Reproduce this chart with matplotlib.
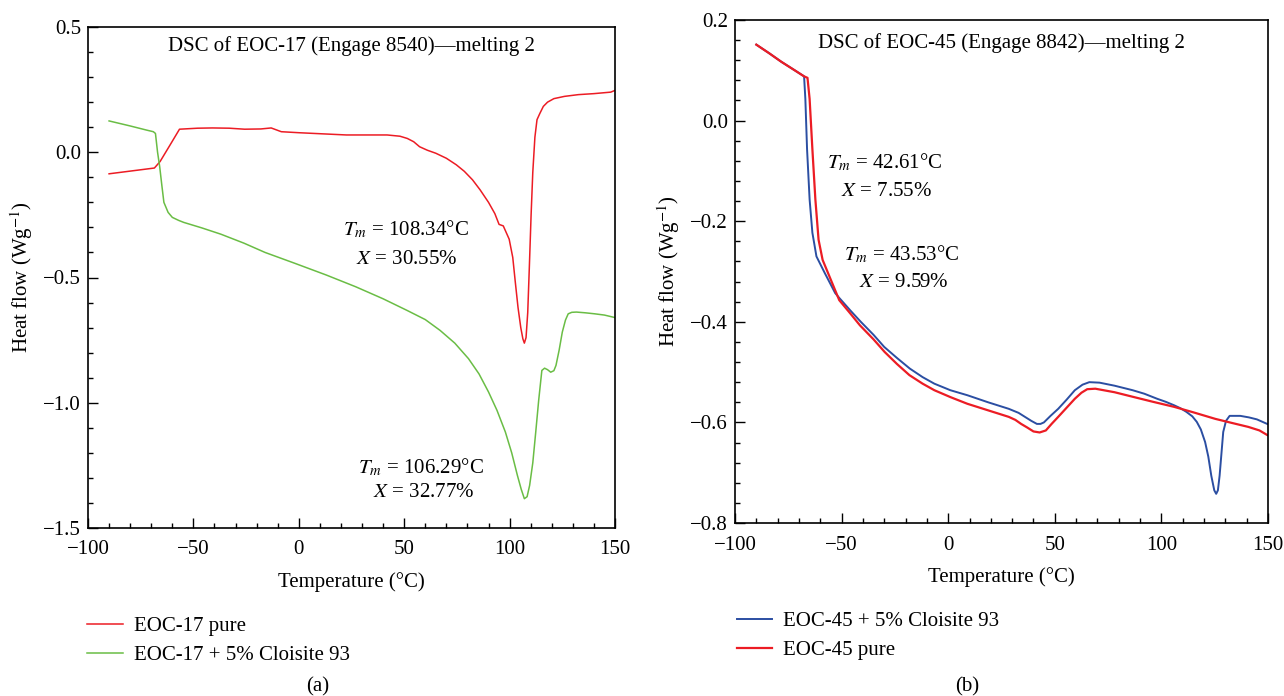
import matplotlib
matplotlib.use("Agg")
import matplotlib.pyplot as plt
from matplotlib.ticker import MultipleLocator, FuncFormatter

plt.rcParams['font.family'] = ['Liberation Serif', 'DejaVu Serif']
plt.rcParams['mathtext.fontset'] = 'stix'

# ---- panel (a): EOC-17 ----
a_pure_T = [-90, -68.5, -65.8, -61, -56.6, -48, -41, -33, -25.7, -18, -13.1, -8.3, 0, 10,
            22.6, 32, 41.9, 48, 51.5, 54.5, 57.3, 61, 65, 70, 74.7, 78.5, 82.4, 86, 90, 93,
            95, 97, 99.8, 101.5, 102.7, 104, 105.3, 106.3, 107, 107.8, 108.6, 109.4, 110.2,
            111, 112, 113, 114.3, 116, 118, 121, 126, 132.6, 140, 148, 150]
a_pure_H = [-0.086, -0.063, -0.037, 0.03, 0.092, 0.096, 0.097, 0.096, 0.092, 0.093, 0.097,
            0.082, 0.078, 0.074, 0.069, 0.069, 0.069, 0.064, 0.055, 0.042, 0.022, 0.008,
            -0.004, -0.024, -0.05, -0.076, -0.11, -0.15, -0.2, -0.245, -0.288, -0.294,
            -0.347, -0.42, -0.518, -0.62, -0.7, -0.745, -0.762, -0.74, -0.64, -0.45, -0.25,
            -0.08, 0.06, 0.13, 0.154, 0.183, 0.2, 0.214, 0.223, 0.23, 0.234, 0.24, 0.247]

a_clay_T = [-90, -80, -72, -69, -68, -67, -66, -65, -64, -62, -60, -57, -54.6, -46, -37,
            -26, -16, -2, 13, 27, 40, 51.5, 60, 67, 74, 80.5, 85.5, 90, 94, 98, 101, 103.7,
            105.5, 107, 108.3, 109.5, 111, 112.4, 113.8, 115.3, 116.6, 118, 119.5, 121,
            122, 123.5, 125, 126.5, 127.8, 129.5, 131.7, 136, 140.4, 145, 149, 150]
a_clay_H = [0.125, 0.105, 0.088, 0.082, 0.075, 0.0, -0.057, -0.13, -0.2, -0.24, -0.26,
            -0.272, -0.28, -0.302, -0.327, -0.363, -0.4, -0.443, -0.49, -0.537, -0.585,
            -0.632, -0.668, -0.711, -0.762, -0.824, -0.885, -0.957, -1.03, -1.117, -1.2,
            -1.29, -1.345, -1.383, -1.375, -1.33, -1.24, -1.117, -0.99, -0.871, -0.862,
            -0.868, -0.878, -0.872, -0.851, -0.79, -0.718, -0.67, -0.645, -0.639, -0.638,
            -0.641, -0.645, -0.65, -0.658, -0.66]

# ---- panel (b): EOC-45 ----
b_clay_T = [-90, -84, -78.3, -72, -67.6, -67, -66.2, -65, -63.7, -61.8, -57.9, -53, -51,
            -46, -41, -35, -30, -24, -18, -12, -6.5, 1, 9, 18.7, 28.4, 33, 36, 39, 41.6,
            43.3, 44.9, 48, 51.6, 55.5, 59.4, 63, 66.2, 71, 78, 86.5, 92, 98, 102, 106,
            109, 111.7, 114.5, 116.6, 118.5, 120.5, 122, 123.4, 124.8, 125.7, 126.5, 127.3,
            128.2, 129, 130.3, 132, 137, 141, 144.8, 149.6]
b_clay_H = [0.151, 0.134, 0.117, 0.1, 0.088, 0.043, -0.057, -0.157, -0.223, -0.27, -0.303,
            -0.343, -0.353, -0.377, -0.4, -0.426, -0.45, -0.472, -0.493, -0.51, -0.523,
            -0.536, -0.546, -0.56, -0.573, -0.581, -0.589, -0.597, -0.603, -0.603, -0.6,
            -0.587, -0.573, -0.555, -0.536, -0.525, -0.52, -0.521, -0.527, -0.536, -0.543,
            -0.553, -0.559, -0.566, -0.572, -0.579, -0.588, -0.599, -0.614, -0.639, -0.668,
            -0.706, -0.735, -0.742, -0.735, -0.706, -0.66, -0.619, -0.597, -0.587, -0.587,
            -0.59, -0.594, -0.603]

b_pure_T = [-90, -84, -78.3, -72, -67.6, -66, -65, -63.7, -62.3, -60.8, -58.9, -55, -51.1,
            -46, -41.4, -35, -29.8, -24, -18.2, -12, -6.5, 1.2, 9, 18.7, 28.4, 31.5, 34.2,
            37, 40, 42.9, 45.8, 48.5, 51.6, 55.5, 59.4, 62.5, 65.2, 69, 78, 86.5, 96, 105.9,
            115, 125.3, 133, 140.8, 146, 149.6]
b_pure_H = [0.151, 0.134, 0.117, 0.1, 0.088, 0.085, 0.043, -0.057, -0.157, -0.237, -0.277,
            -0.317, -0.357, -0.383, -0.407, -0.435, -0.46, -0.484, -0.506, -0.523, -0.536,
            -0.55, -0.563, -0.576, -0.589, -0.595, -0.603, -0.61, -0.618, -0.62, -0.616,
            -0.603, -0.589, -0.571, -0.553, -0.541, -0.534, -0.533, -0.54, -0.549, -0.559,
            -0.569, -0.58, -0.593, -0.601, -0.609, -0.616, -0.625]

red = '#ec1c24'
green = '#6abd45'
blue = '#2b4ea2'

fig = plt.figure(figsize=(12.84, 6.96), dpi=100)
ax1 = fig.add_axes([88/1284, 1-528/696, 527/1284, 501/696])
ax2 = fig.add_axes([735/1284, 1-523/696, 533/1284, 503/696])


def minus_fmt(v, pos):
    return ('%.1f' % v).replace('-', '\u2212')


def style_axis(ax, ylo, yhi, ymaj, ymin):
    ax.set_xlim(-100, 150)
    ax.set_ylim(ylo, yhi)
    ax.xaxis.set_major_locator(MultipleLocator(50))
    ax.xaxis.set_minor_locator(MultipleLocator(10))
    ax.yaxis.set_major_locator(MultipleLocator(ymaj))
    ax.yaxis.set_minor_locator(MultipleLocator(ymin))
    ax.yaxis.set_major_formatter(FuncFormatter(minus_fmt))
    ax.tick_params(which='both', direction='in', top=False, right=False,
                   labelsize=15, width=1.0)
    ax.tick_params(which='major', length=7)
    ax.tick_params(axis='x', which='major', pad=9)
    ax.tick_params(axis='y', which='major', pad=5)
    ax.tick_params(which='minor', length=3.5)
    for s in ax.spines.values():
        s.set_linewidth(1.2)
    ax.set_xlabel('Temperature (°C)', fontsize=15, labelpad=9)
    ax.set_ylabel('Heat flow (Wg$^{-1}$)', fontsize=15, labelpad=6)


# panel (a)
l1, = ax1.plot(a_pure_T, a_pure_H, color=red, lw=1.1)
l2, = ax1.plot(a_clay_T, a_clay_H, color=green, lw=1.1)
style_axis(ax1, -1.5, 0.5, 0.5, 0.1)
ax1.text(0.5, 0.962, 'DSC of EOC-17 (Engage 8540)—melting 2', transform=ax1.transAxes,
         ha='center', va='center', fontsize=15)
ax1.text(51, -0.31, '$T_m$ = 108.34°C', ha='center', va='center', fontsize=15)
ax1.text(51, -0.43, '$X$ = 30.55%', ha='center', va='center', fontsize=15)
ax1.text(58, -1.26, '$T_m$ = 106.29°C', ha='center', va='center', fontsize=15)
ax1.text(59, -1.36, '$X$ = 32.77%', ha='center', va='center', fontsize=15)
ax1.legend([l1, l2], ['EOC-17 pure', 'EOC-17 + 5% Cloisite 93'], frameon=False,
           loc='upper left', bbox_to_anchor=(-0.017, -0.16), fontsize=15,
           handlelength=1.7, handletextpad=0.55, labelspacing=0.45, borderaxespad=0)
fig.text(318/1284, 1-687/696, '(a)', ha='center', va='center', fontsize=15)

# panel (b)
l3, = ax2.plot(b_clay_T, b_clay_H, color=blue, lw=1.4)
l4, = ax2.plot(b_pure_T, b_pure_H, color=red, lw=1.6)
style_axis(ax2, -0.8, 0.2, 0.2, 0.04)
ax2.text(0.5, 0.955, 'DSC of EOC-45 (Engage 8842)—melting 2', transform=ax2.transAxes,
         ha='center', va='center', fontsize=15)
ax2.text(-30, -0.084, '$T_m$ = 42.61°C', ha='center', va='center', fontsize=15)
ax2.text(-29, -0.14, '$X$ = 7.55%', ha='center', va='center', fontsize=15)
ax2.text(-22, -0.267, '$T_m$ = 43.53°C', ha='center', va='center', fontsize=15)
ax2.text(-21, -0.322, '$X$ = 9.59%', ha='center', va='center', fontsize=15)
ax2.legend([l3, l4], ['EOC-45 + 5% Cloisite 93', 'EOC-45 pure'], frameon=False,
           loc='upper left', bbox_to_anchor=(-0.012, -0.16), fontsize=15,
           handlelength=1.7, handletextpad=0.5, labelspacing=0.45, borderaxespad=0)
fig.text(967/1284, 1-687/696, '(b)', ha='center', va='center', fontsize=15)

fig.savefig('out.png', dpi=100)
